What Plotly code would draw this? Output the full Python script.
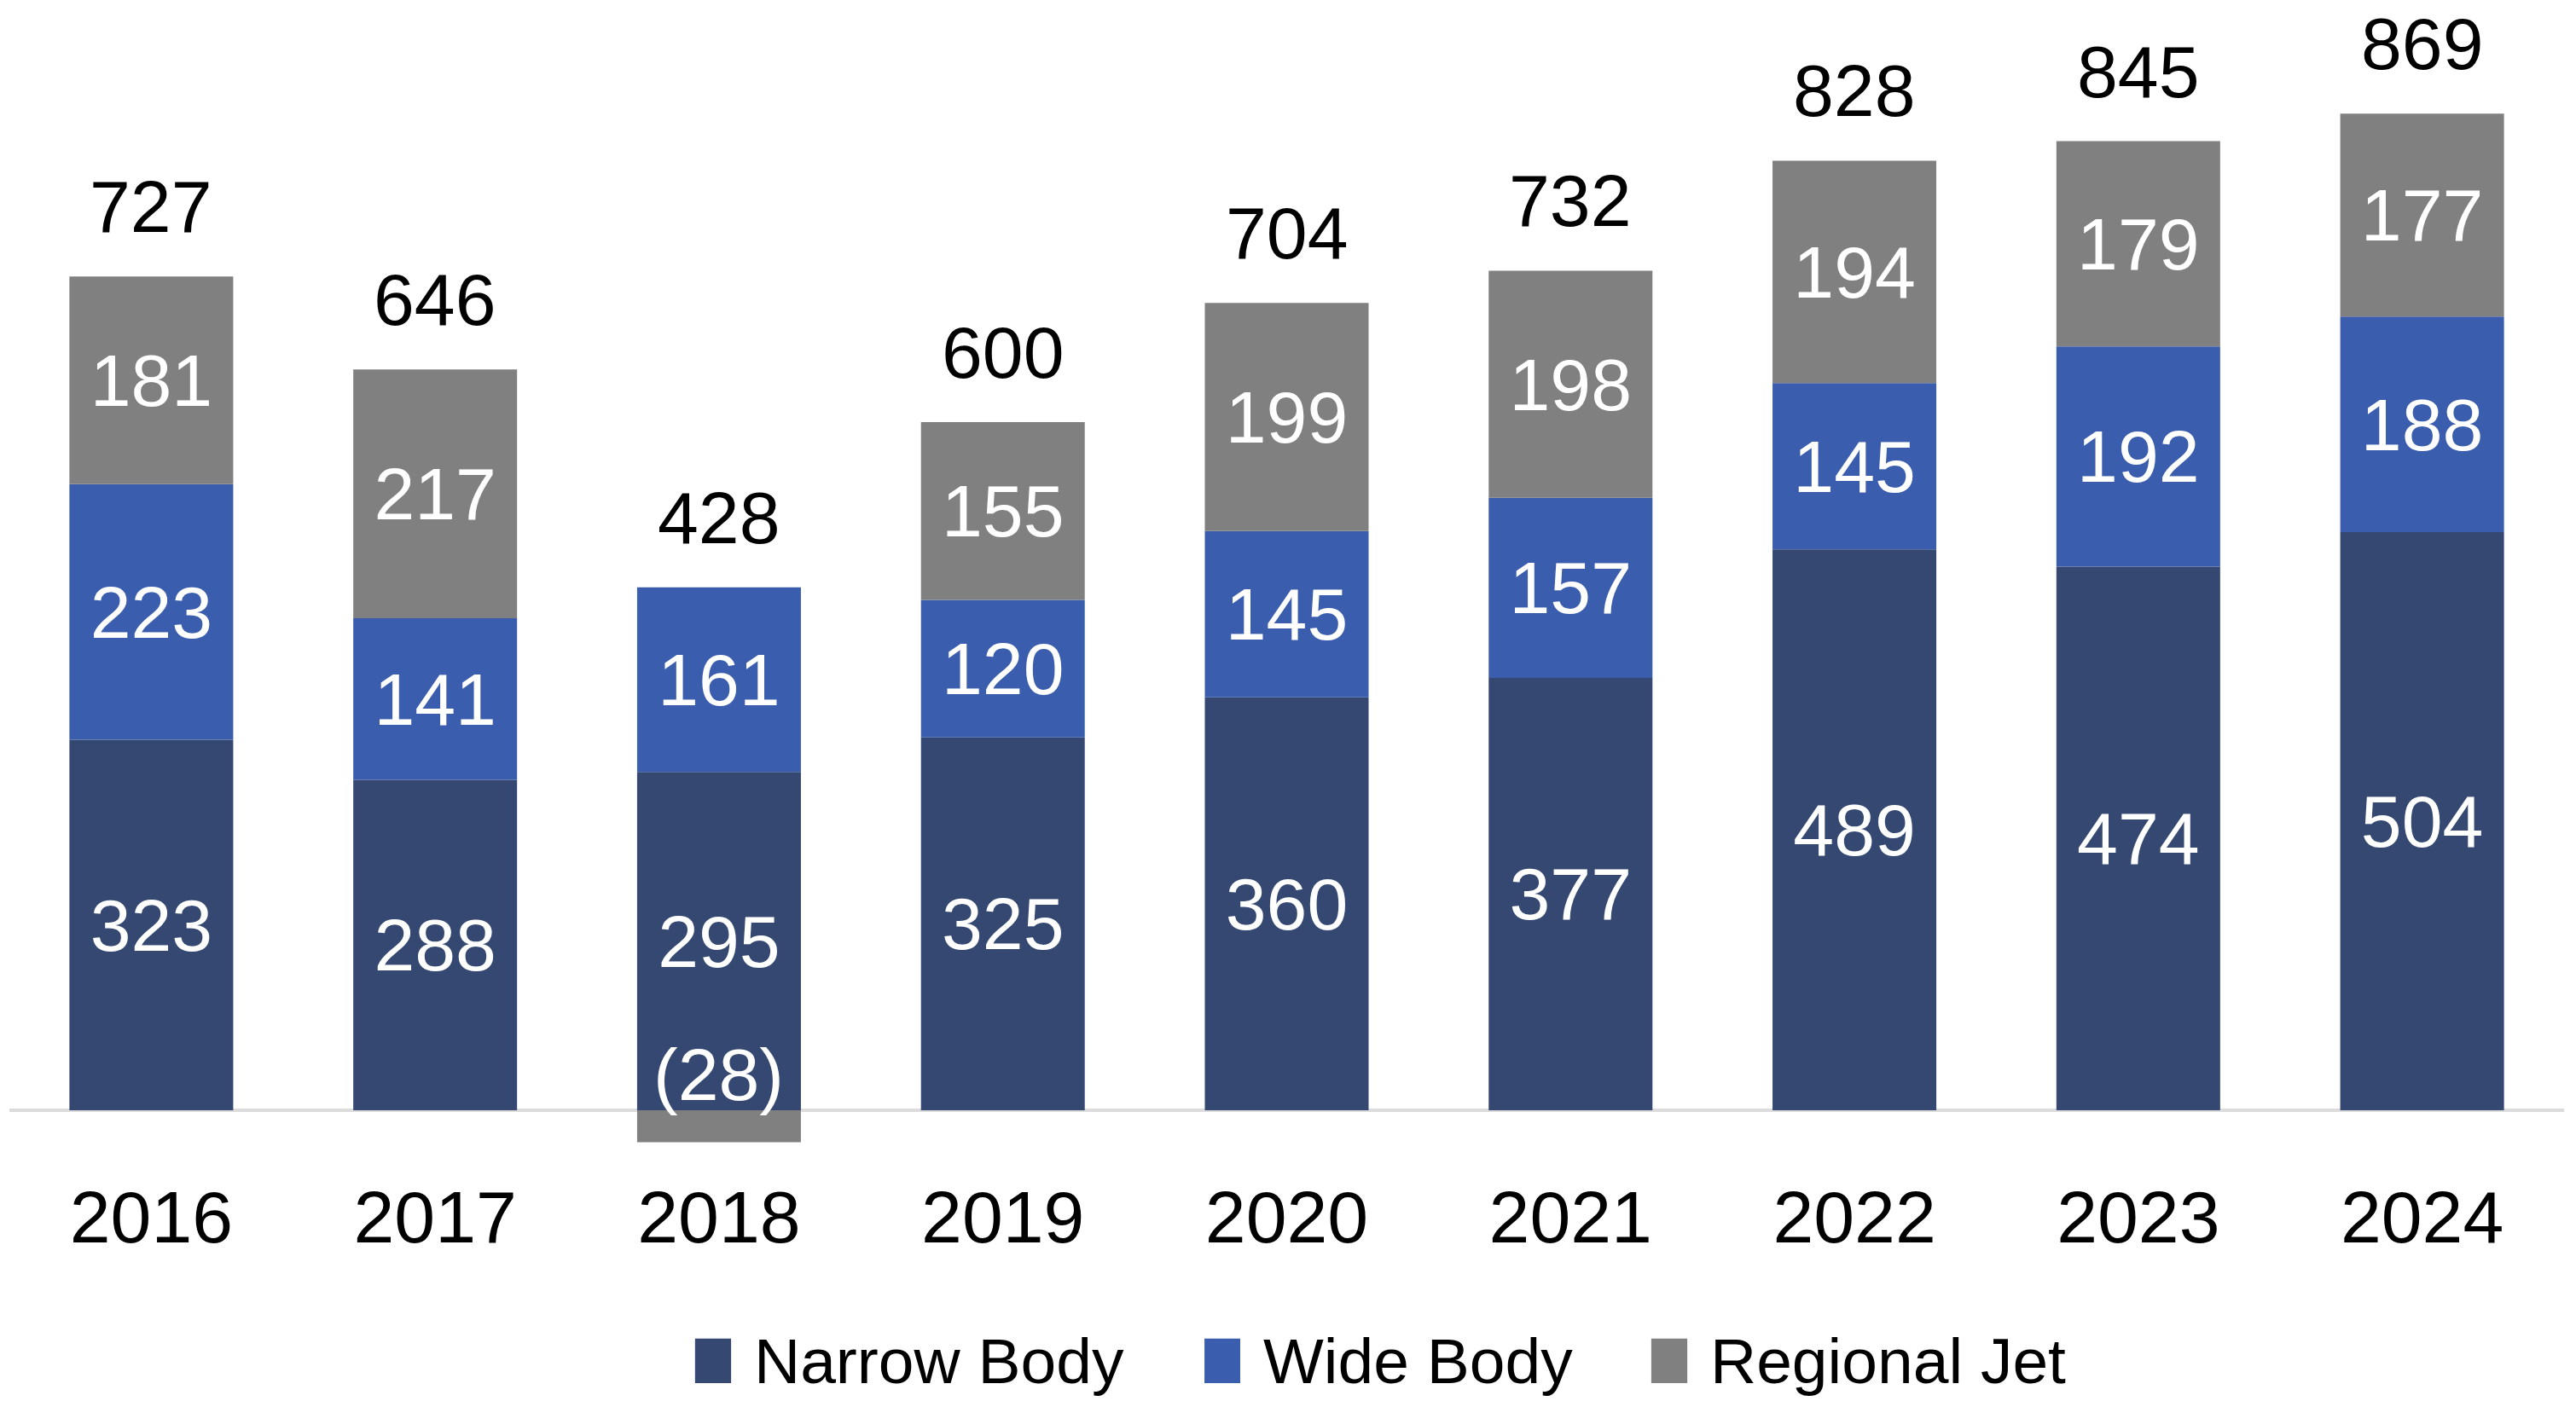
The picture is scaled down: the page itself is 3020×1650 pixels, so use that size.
import plotly.graph_objects as go

# ---- data ----
years = ["2016", "2017", "2018", "2019", "2020", "2021", "2022", "2023", "2024"]
narrow_body = [323, 288, 295, 325, 360, 377, 489, 474, 504]
wide_body = [223, 141, 161, 120, 145, 157, 145, 192, 188]
regional_jet = [181, 217, -28, 155, 199, 198, 194, 179, 177]
totals = [727, 646, 428, 600, 704, 732, 828, 845, 869]
series_names = ["Narrow Body", "Wide Body", "Regional Jet"]

# ---- style ----
colors = ["#344871", "#3A5DAE", "#808080"]
FONT = "Liberation Sans Narrow, Arial Narrow, Liberation Sans, Arial, sans-serif"
LABEL_SIZE = 86
LEGEND_SIZE = 75


def fmt(v):
    return f"({abs(v)})" if v < 0 else str(v)


series = [narrow_body, wide_body, regional_jet]
fig = go.Figure()
annotations = []

for name, vals, col in zip(series_names, series, colors):
    fig.add_trace(go.Bar(
        x=years, y=vals, name=name,
        marker=dict(color=col, line=dict(width=0)),
        text=[fmt(v) if v > 0 else "" for v in vals],
        textposition="inside", insidetextanchor="middle",
        textfont=dict(color="white", size=LABEL_SIZE, family=FONT),
        showlegend=False, hoverinfo="x+y+name",
    ))
    for i, v in enumerate(vals):
        if v < 0:
            annotations.append(dict(
                x=i, y=0, xref="x", yref="y", text=fmt(v), showarrow=False,
                yanchor="middle", yshift=42,
                font=dict(color="white", size=LABEL_SIZE, family=FONT)))

# totals above the positive stack
for i in range(len(years)):
    top = sum(max(s[i], 0) for s in series)
    annotations.append(dict(
        x=i, y=top, xref="x", yref="y", text=str(totals[i]), showarrow=False,
        yanchor="middle", yshift=82,
        font=dict(color="black", size=LABEL_SIZE, family=FONT)))

# manual legend (large square markers)
legend_pos = [(0.2684, 0.2825, 0.2908), (0.4678, 0.4818, 0.4902), (0.6427, 0.6568, 0.6651)]
shapes = []
for name, col, (x0, x1, xt) in zip(series_names, colors, legend_pos):
    shapes.append(dict(type="rect", xref="paper", yref="paper",
                       x0=x0, x1=x1, y0=-0.1867, y1=-0.148,
                       fillcolor=col, line=dict(width=0)))
    annotations.append(dict(x=xt, y=-0.1674, xref="paper", yref="paper",
                            text=name, showarrow=False, xanchor="left", yanchor="middle",
                            font=dict(color="black", size=LEGEND_SIZE, family=FONT)))

fig.update_layout(
    width=3020, height=1650,
    barmode="relative", bargap=0.423,
    margin=dict(l=11, r=14, t=20, b=280),
    plot_bgcolor="white", paper_bgcolor="white",
    showlegend=False,
    annotations=annotations, shapes=shapes,
    xaxis=dict(type="category", range=[-0.5, 8.5], showline=False, showgrid=False, ticks="",
               tickfont=dict(size=LABEL_SIZE, color="black", family=FONT)),
    yaxis=dict(range=[-50.6, 953.2], showgrid=False, showticklabels=False,
               zeroline=True, zerolinecolor="#DCDCDC", zerolinewidth=4, ticks=""),
    uniformtext=dict(minsize=LABEL_SIZE, mode="show"),
)

fig.write_html("out.html")
